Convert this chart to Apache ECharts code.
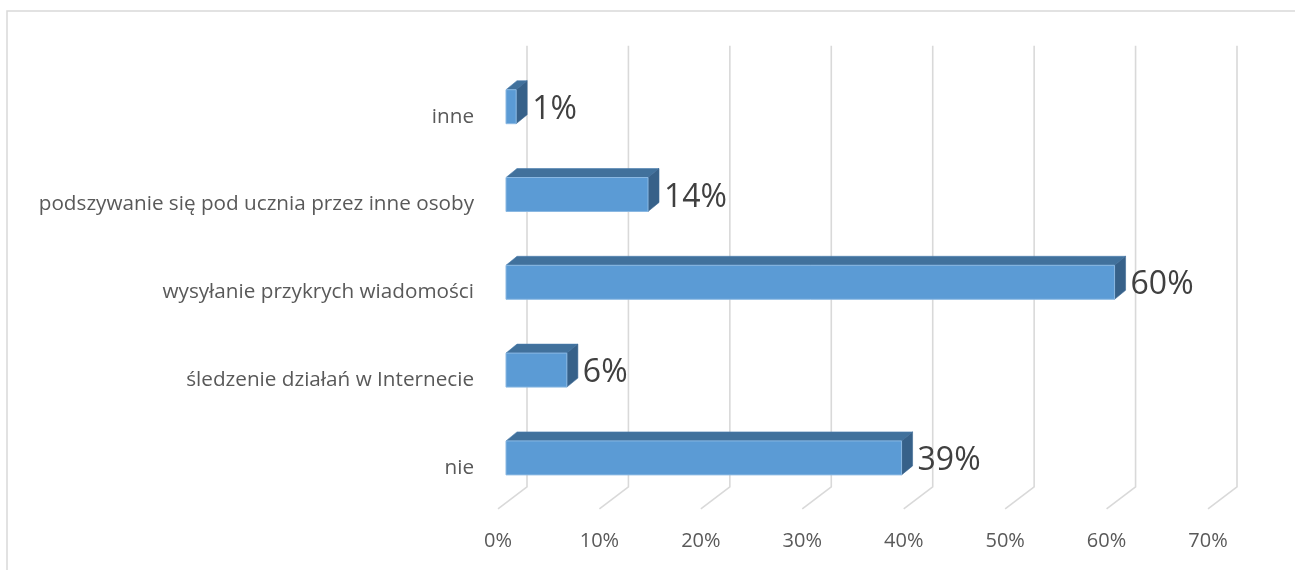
<!DOCTYPE html>
<html>
<head>
<meta charset="utf-8">
<script src="https://cdn.jsdelivr.net/npm/echarts@6/dist/echarts.min.js"></script>
<style>
  html, body { margin: 0; padding: 0; background: #ffffff; }
  #chart { width: 1295px; height: 570px; }
</style>
</head>
<body>
<div id="chart"></div>
<script>
// ---- data (top to bottom as shown) ----
var categories = [
  'inne',
  'podszywanie się pod ucznia przez inne osoby',
  'wysyłanie przykrych wiadomości',
  'śledzenie działań w Internecie',
  'nie'
];
var values = [1, 14, 60, 6, 39];
var tickValues = [0, 10, 20, 30, 40, 50, 60, 70];

var FONT = '"Open Sans", "Noto Sans", sans-serif';

var chart = echarts.init(document.getElementById('chart'), null, { renderer: 'canvas' });

function renderGrid(params, api) {
  var v = api.value(0);
  var p = api.coord([v, 0]);
  var cs = params.coordSys;
  var xb = p[0] + 29;
  var yTop = cs.y - 17;
  var yBot = cs.y + cs.height - 15;
  return {
    type: 'polyline',
    shape: { points: [[xb, yTop], [xb, yBot], [p[0], cs.y + cs.height + 7]] },
    style: { stroke: '#D9D9D9', lineWidth: 1.6, fill: null }
  };
}

function renderBar(params, api) {
  var v = api.value(0);
  var c = api.value(1);
  var p0 = api.coord([0, c]);
  var p1 = api.coord([v, c]);
  var band = api.size([0, 1])[1];
  var h = band * 0.387;
  var dx = 11, dy = -9;
  var x0 = p0[0] + 8, x1 = p1[0] + 8;
  var top = p0[1] - h / 2, bot = p0[1] + h / 2;
  return {
    type: 'group',
    children: [
      {
        type: 'polygon',
        shape: { points: [[x0, top], [x0 + dx, top + dy], [x1 + dx, top + dy], [x1, top]] },
        style: { fill: '#41719C', stroke: '#4A7DAE', lineWidth: 0.6 }
      },
      {
        type: 'polygon',
        shape: { points: [[x1, top], [x1 + dx, top + dy], [x1 + dx, bot + dy], [x1, bot]] },
        style: { fill: '#376189', stroke: '#3C6893', lineWidth: 0.6 }
      },
      {
        type: 'rect',
        shape: { x: x0, y: top, width: x1 - x0, height: h },
        style: { fill: '#5B9BD5', stroke: '#8AB8E2', lineWidth: 1 }
      },
      {
        type: 'text',
        x: x1 + 16,
        y: p0[1] + 3,
        style: {
          text: v + '%',
          fill: '#404040',
          font: '32px ' + FONT,
          align: 'left',
          verticalAlign: 'middle'
        }
      }
    ]
  };
}

var option = {
  backgroundColor: '#ffffff',
  animation: false,
  graphic: [{
    type: 'rect',
    shape: { x: 7, y: 11, width: 1300, height: 600 },
    style: { fill: null, stroke: '#D9D9D9', lineWidth: 1.5 },
    z: 0
  }],
  grid: { left: 498, right: 87, top: 62.8, bottom: 68.2, containLabel: false },
  xAxis: {
    type: 'value',
    min: 0, max: 70, interval: 10,
    axisLine: { show: false },
    axisTick: { show: false },
    splitLine: { show: false },
    axisLabel: {
      formatter: '{value}%',
      color: '#595959',
      fontFamily: FONT,
      fontSize: 20,
      margin: 29
    }
  },
  yAxis: {
    type: 'category',
    inverse: true,
    data: categories,
    axisLine: { show: false },
    axisTick: { show: false },
    splitLine: { show: false },
    axisLabel: {
      color: '#595959',
      fontFamily: FONT,
      fontSize: 20.7,
      margin: 24,
      verticalAlign: 'top',
      lineHeight: 20
    }
  },
  series: [
    {
      type: 'custom',
      name: 'grid',
      renderItem: renderGrid,
      data: tickValues.map(function (t) { return [t, 0]; }),
      encode: { x: 0, y: 1 },
      silent: true,
      z: 1
    },
    {
      type: 'custom',
      name: 'values',
      renderItem: renderBar,
      data: values.map(function (v, i) { return [v, i]; }),
      encode: { x: 0, y: 1 },
      z: 2
    }
  ]
};

chart.setOption(option);
</script>
</body>
</html>
